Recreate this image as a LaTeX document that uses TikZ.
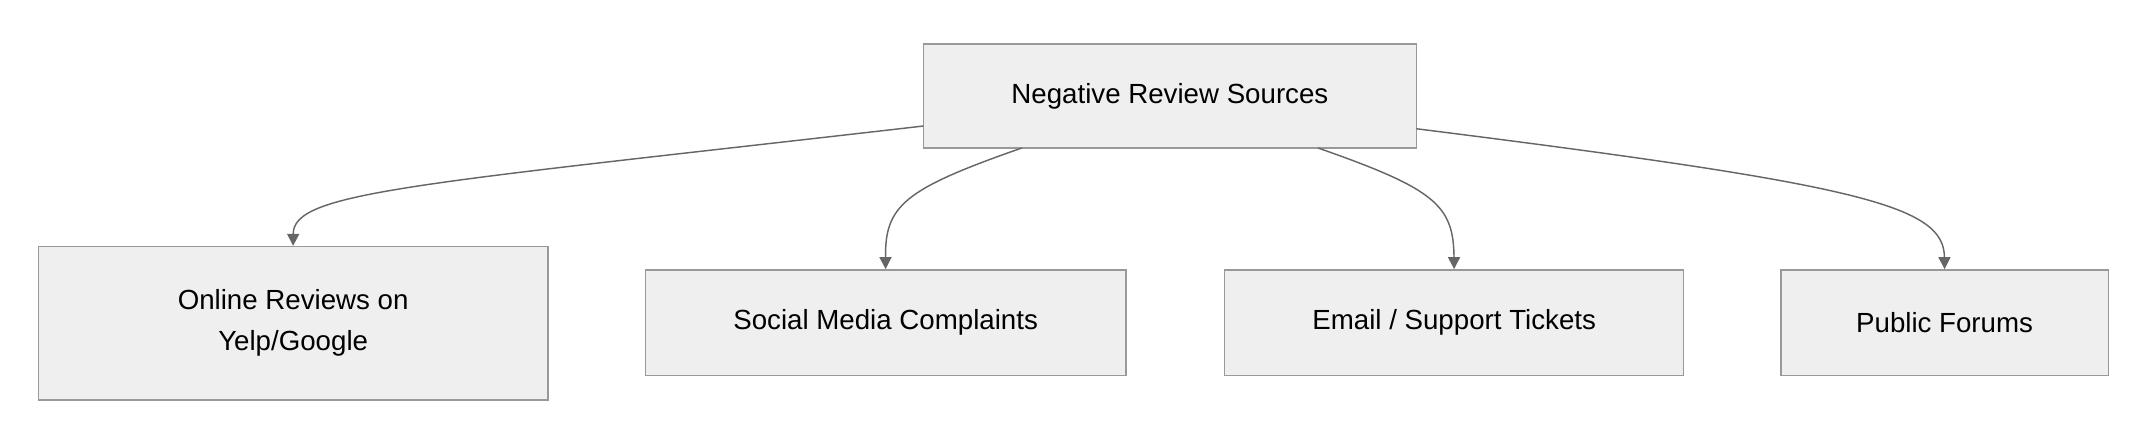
\documentclass[tikz,border=0pt]{standalone}
\usepackage{fontspec}
\setmainfont{Liberation Sans}
\usetikzlibrary{arrows.meta}
\definecolor{boxfill}{HTML}{EFEFEF}
\definecolor{boxline}{HTML}{999999}
\definecolor{edge}{HTML}{666666}
\begin{document}
\begin{tikzpicture}[x=0.02cm,y=-0.02cm,
  box/.style={draw=boxline,fill=boxfill,line width=0.6pt,align=center,font=\fontsize{11.5}{17}\selectfont,inner sep=0pt},
  conn/.style={draw=edge,line width=0.6pt,-{Triangle[length=5pt,width=5pt]}}]
\useasboundingbox (0,0) rectangle (1568,324);
\node[box,minimum width=360*0.02cm,minimum height=76*0.02cm] (r) at (854,70) {Negative Review Sources};
\node[box,minimum width=372*0.02cm,minimum height=112*0.02cm] (a) at (214,236) {Online Reviews on\\Yelp/Google};
\node[box,minimum width=351*0.02cm,minimum height=77*0.02cm] (b) at (646.5,235.5) {Social Media Complaints};
\node[box,minimum width=335*0.02cm,minimum height=77*0.02cm] (c) at (1061.5,235.5) {Email / Support Tickets};
\node[box,minimum width=239*0.02cm,minimum height=77*0.02cm] (d) at (1419.5,235.5) {Public Forums};
\coordinate (r1) at (674,92);
\coordinate (r2) at (746,108);
\coordinate (r3) at (962,108);
\coordinate (r4) at (1034,94);
\draw[conn] (r1) .. controls (300,135) and (214,140) .. (a.north);
\draw[conn] (r2) .. controls (660,138) and (646,150) .. (b.north);
\draw[conn] (r3) .. controls (1048,138) and (1061,150) .. (c.north);
\draw[conn] (r4) .. controls (1360,135) and (1419,150) .. (d.north);
\end{tikzpicture}
\end{document}
